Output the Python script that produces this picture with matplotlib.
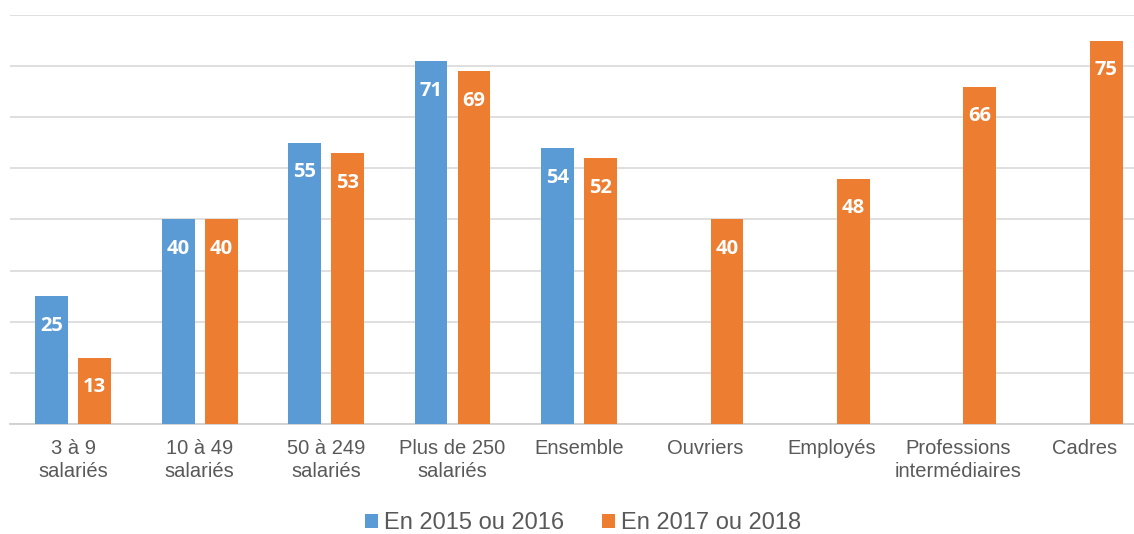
import matplotlib

matplotlib.use("Agg")

import matplotlib.pyplot as plt
import numpy as np

categories = [
    "3 à 9\nsalariés",
    "10 à 49\nsalariés",
    "50 à 249\nsalariés",
    "Plus de 250\nsalariés",
    "Ensemble",
    "Ouvriers",
    "Employés",
    "Professions\nintermédiaires",
    "Cadres",
]
series_names = ["En 2015 ou 2016", "En 2017 ou 2018"]
values_2015 = [25, 40, 55, 71, 54, None, None, None, None]
values_2017 = [13, 40, 53, 69, 52, 40, 48, 66, 75]

BLUE = "#5b9bd5"
ORANGE = "#ed7d31"
TEXT_GRAY = "#595959"

plt.rcParams["font.family"] = ["Liberation Sans", "DejaVu Sans"]

fig = plt.figure(figsize=(11.34, 5.34), dpi=100)
# axes slightly wider than the canvas: the reference is cropped on the right
ax = fig.add_axes([10 / 1134, 110 / 534, 1138 / 1134, 409 / 534])

x = np.arange(len(categories))
width = 0.26
offset = 0.17

for values, shift, color, name in [
    (values_2015, -offset, BLUE, series_names[0]),
    (values_2017, offset, ORANGE, series_names[1]),
]:
    xs = [xi + shift for xi, v in zip(x, values) if v is not None]
    vs = [v for v in values if v is not None]
    ax.bar(xs, vs, width=width, color=color, label=name, zorder=3)
    for xi, v in zip(xs, vs):
        ax.text(xi, v - 5.8, str(v), ha="center", va="center",
                color="white", fontsize=14.5, fontweight="bold",
                family=["Open Sans", "DejaVu Sans"], zorder=4)

ax.set_xlim(-0.5, len(categories) - 0.5)
ax.set_ylim(0, 80)
ax.set_yticks(np.arange(0, 81, 10))
ax.set_yticklabels([])
ax.tick_params(axis="y", length=0)
ax.grid(axis="y", color="#d9d9d9", linewidth=1.2, zorder=0)

ax.set_xticks(x)
ax.set_xticklabels(categories, fontsize=14.5, color=TEXT_GRAY, linespacing=1.25)
ax.tick_params(axis="x", length=0, pad=11)

for side in ["top", "right", "left"]:
    ax.spines[side].set_visible(False)
ax.spines["bottom"].set_color("#d0d0d0")
ax.spines["bottom"].set_linewidth(1.3)

fig.legend(loc="center", bbox_to_anchor=(583 / 1134, 1 - 523 / 534), ncol=2,
           frameon=False, fontsize=17, labelcolor=TEXT_GRAY,
           handlelength=0.55, handleheight=0.55, handletextpad=0.25,
           columnspacing=1.6)

fig.savefig("out.png", dpi=100)
